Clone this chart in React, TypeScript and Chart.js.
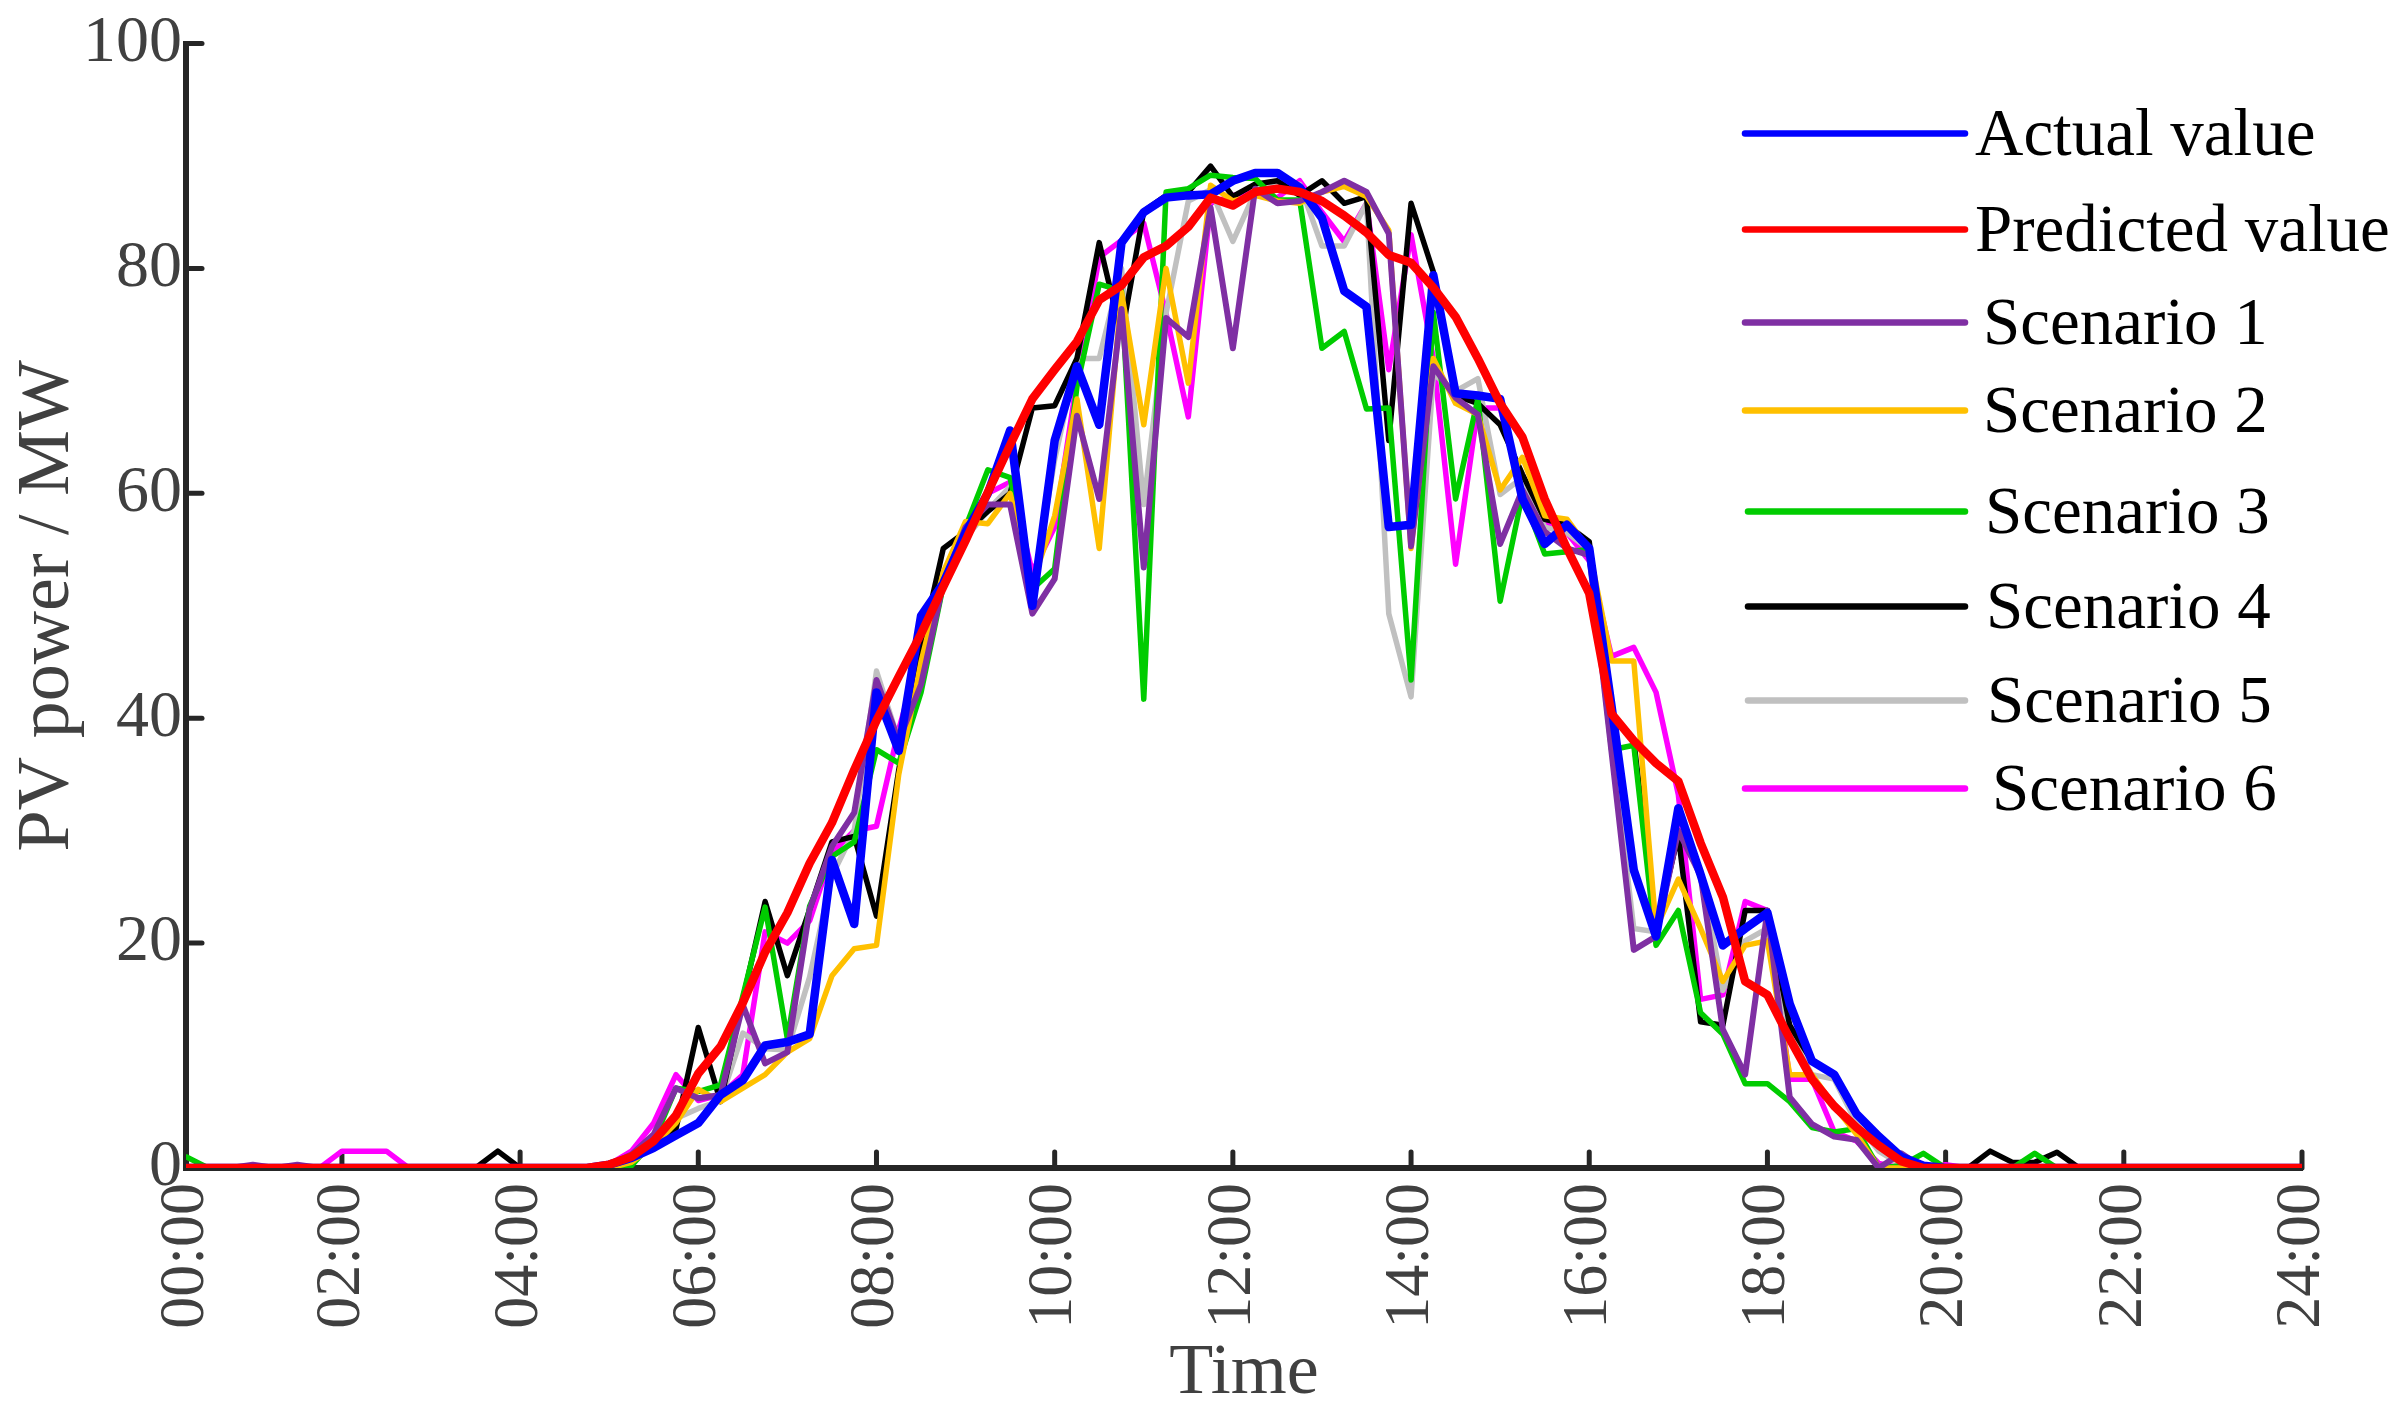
import React, { useEffect, useRef } from 'react';
import { Chart, registerables } from 'chart.js';

Chart.register(...registerables);

// 96 quarter-hour steps (index 1..96)
const STEP_INDEX: number[] = Array.from({ length: 96 }, (_, i) => i + 1);
const TICK_POSITIONS = [1, 8, 16, 24, 32, 40, 48, 56, 64, 72, 80, 88, 96];
const TICK_LABELS = ['00:00', '02:00', '04:00', '06:00', '08:00', '10:00', '12:00', '14:00', '16:00', '18:00', '20:00', '22:00', '24:00'];
const Y_TICKS = [0, 20, 40, 60, 80, 100];

const SERIES_NAMES = ['Actual value', 'Predicted value', 'Scenario 1', 'Scenario 2', 'Scenario 3', 'Scenario 4', 'Scenario 5', 'Scenario 6'];

const ACTUAL = [
  0, 0, 0, 0, 0, 0, 0, 0, 0, 0, 0, 0, 0, 0, 0, 0, 0, 0, 0,
  0.3, 0.9, 1.8, 2.9, 4.0, 6.5, 7.8, 10.9, 11.2, 11.9,
  27.4, 21.7, 42.3, 37.1, 49.1, 52, 56.5, 60, 65.6, 50,
  64.7, 71.3, 66.1, 82.3, 85, 86.3, 86.5, 86.6, 87.8, 88.5,
  88.5, 87.2, 84.5, 78, 76.6, 57, 57.2, 79.4, 68.9, 68.7,
  68.4, 59.5, 55.5, 57.2, 55.1, 41.1, 26.5, 20.6, 32, 26.1,
  19.8, 21.3, 22.7, 14.6, 9.5, 8.3, 4.8, 2.8, 1.0, 0.2,
  0, 0, 0, 0, 0, 0, 0, 0, 0, 0, 0, 0, 0, 0, 0, 0, 0,
];

const PREDICTED = [
  0, 0, 0, 0, 0, 0, 0, 0, 0, 0, 0, 0, 0, 0, 0, 0, 0, 0, 0,
  0.3, 1.0, 2.4, 4.7, 8.4, 10.8, 14.7, 19.2, 22.7, 27.1,
  30.7, 35.4, 39.8, 43.7, 47.5, 51.7, 55.8, 60.1, 64.3, 68.4,
  71, 73.5, 77.2, 78.5, 81, 82, 83.7, 86.3, 85.6, 86.8,
  87.1, 86.8, 86, 84.7, 83.2, 81.2, 80.5, 78.3, 75.7, 72,
  68, 65, 59.5, 55.1, 51.1, 40.4, 38, 36, 34.4, 28.9,
  24.1, 16.6, 15.4, 11.5, 7.9, 5.5, 3.6, 2.0, 0.6, 0,
  0, 0, 0, 0, 0, 0, 0, 0, 0, 0, 0, 0, 0, 0, 0, 0, 0,
];

const SCENARIO_1 = [
  0, 0, 0, 0.3, 0, 0.3, 0, 0, 0, 0, 0, 0, 0, 0, 0, 0, 0, 0, 0,
  0.3, 1.2, 3, 7.1, 6.2, 6.5, 14.5, 9.3, 10.3, 23,
  28.6, 31.6, 43.4, 38, 43, 52, 57, 59, 59, 49.3,
  52.4, 66.9, 59.5, 76.4, 53.4, 75.6, 73.9, 85.4, 72.9, 87.1,
  85.8, 86, 86.8, 87.8, 86.8, 83.1, 55.3, 71.3, 68.5, 67,
  55.5, 60.3, 56.6, 55.1, 54.5, 37, 19.4, 20.6, 30, 26,
  12.3, 8.3, 22.9, 6.3, 3.9, 2.8, 2.5, 0, 1.3, 0,
  0, 0, 0, 0, 0, 0, 0, 0, 0, 0, 0, 0, 0, 0, 0, 0, 0,
];

const SCENARIO_2 = [
  0, 0, 0, 0, 0, 0, 0, 0, 0, 0, 0, 0, 0, 0, 0, 0, 0, 0, 0, 0,
  0.5, 2, 4, 7, 5.9, 7.1, 8.3, 10.3, 11.5,
  17.1, 19.5, 19.8, 35, 45, 53, 57.5, 57.3, 60, 52,
  58, 68.4, 55.1, 77.9, 66.1, 80, 69.8, 87.4, 86, 86.5,
  86, 85.8, 86.8, 87.3, 86.4, 83.4, 55.1, 72, 68, 67,
  60.3, 63.2, 58, 57.7, 55, 45.1, 45.1, 21.3, 25.7, 21.3,
  16.6, 19.8, 20.2, 8.3, 8.3, 5.5, 3, 0, 0, 0,
  0, 0, 0, 0, 0, 0, 0, 0, 0, 0, 0, 0, 0, 0, 0, 0, 0,
];

const SCENARIO_3 = [
  1, 0, 0, 0, 0, 0, 0, 0, 0, 0, 0, 0, 0, 0, 0, 0, 0, 0, 0, 0,
  0.2, 2.4, 7.1, 6.8, 7.4, 15.3, 23.2, 11.5, 23.3,
  27.7, 29, 37.2, 36, 42.3, 51.8, 57, 62.1, 61.4, 51.5,
  53.3, 69.5, 78.6, 78, 41.7, 86.8, 87.1, 88.3, 88.1, 88,
  86.1, 86.1, 72.9, 74.4, 67.5, 67.6, 43.4, 76.1, 59.5, 68.4,
  50.4, 59.9, 54.6, 54.8, 55, 37.2, 37.6, 19.8, 22.9, 13.8,
  11.9, 7.5, 7.5, 5.9, 3.6, 3.2, 3.5, 0, 0.2, 1.3,
  0, 0, 0, 0, 1.3, 0, 0, 0, 0, 0, 0, 0, 0, 0, 0, 0, 0,
];

const SCENARIO_4 = [
  0, 0, 0, 0, 0, 0, 0, 0, 0, 0, 0, 0, 0, 0, 1.5, 0, 0, 0, 0,
  0.3, 0.9, 1.8, 3.5, 12.5, 5.9, 15, 23.7, 17.1, 23,
  29, 29.5, 22.4, 35.4, 46.3, 55.1, 56.6, 58.4, 60, 67.6,
  67.8, 72, 82.3, 74, 85.1, 86.5, 86.8, 89.1, 86.4, 87.5,
  87.8, 86.5, 87.8, 85.8, 86.4, 64.7, 85.8, 79.7, 68.7, 68,
  66.1, 61.7, 57.7, 57.2, 55.7, 40.4, 38, 21.3, 29.6, 13,
  12.7, 22.9, 22.9, 12.7, 9.5, 8.3, 4.8, 2.4, 0.5, 0,
  0, 0, 1.5, 0.5, 0.5, 1.4, 0, 0, 0, 0, 0, 0, 0, 0, 0, 0, 0,
];

const SCENARIO_5 = [
  0, 0, 0, 0, 0, 0, 0, 0, 0, 0, 0, 0, 0, 0, 0, 0, 0, 0, 0, 0,
  0.5, 2, 4.4, 5.3, 6, 12, 10.6, 10.5, 17,
  26, 30, 44.2, 38, 45, 52, 56, 58.5, 60.6, 51,
  63, 72, 72, 80, 59, 76, 86, 87, 82.4, 86.8,
  87.5, 87.5, 82, 82, 85.8, 49.3, 41.9, 70.6, 69.1, 70.2,
  59.9, 61.4, 57, 56.5, 55, 38, 21.3, 21, 30, 26.5,
  15.8, 20.2, 21.3, 12, 8.3, 7.9, 4, 1.5, 0.3, 0,
  0, 0, 0, 0, 0, 0, 0, 0, 0, 0, 0, 0, 0, 0, 0, 0, 0,
];

const SCENARIO_6 = [
  0, 0, 0, 0, 0, 0, 0, 1.5, 1.5, 1.5, 0, 0, 0, 0, 0, 0, 0, 0, 0,
  0.3, 1.5, 4, 8.3, 6, 6.5, 8.3, 21, 20, 22,
  28, 30, 30.4, 39, 46, 52, 56.5, 60, 61, 53,
  57, 70, 81, 82.5, 84, 76, 66.8, 85.8, 86.5, 86.8,
  86.3, 87.8, 85, 82.4, 85.8, 71, 83, 72, 53.7, 67.6,
  67.6, 60, 57.5, 56.5, 54, 45.5, 46.3, 42.3, 33.2, 15,
  15.4, 23.7, 22.9, 7.9, 7.9, 3.2, 2.4, 0.4, 0, 0,
  0.3, 0, 0, 0, 0, 0, 0, 0, 0, 0, 0, 0, 0, 0, 0, 0, 0,
];

const SERIES_VALUES = [ACTUAL, PREDICTED, SCENARIO_1, SCENARIO_2, SCENARIO_3, SCENARIO_4, SCENARIO_5, SCENARIO_6];
const SERIES_COLORS = ['#0000FF', '#FF0000', '#7F2FA3', '#FFC000', '#00CC00', '#000000', '#C0C0C0', '#FF00FF'];
const SERIES_WIDTHS = [8.5, 8.5, 6, 5.5, 5.5, 5.5, 5.5, 5.5];
const SERIES_ORDER = [1, 0, 2, 3, 4, 5, 6, 7];

const FONT = "'Liberation Serif', 'Times New Roman', Times, serif";
const AXIS_COLOR = '#262626';
const LABEL_COLOR = '#404040';

const innerTicksPlugin = {
  id: 'innerTicks',
  beforeDatasetsDraw(chart: any) {
    const { ctx, chartArea, scales } = chart;
    ctx.save();
    ctx.strokeStyle = AXIS_COLOR;
    ctx.lineWidth = 5;
    ctx.lineCap = 'round';
    for (const v of Y_TICKS) {
      const y = scales.y.getPixelForValue(v);
      ctx.beginPath();
      ctx.moveTo(chartArea.left, y);
      ctx.lineTo(chartArea.left + 16, y);
      ctx.stroke();
    }
    for (const p of TICK_POSITIONS) {
      const x = scales.x.getPixelForValue(p);
      ctx.beginPath();
      ctx.moveTo(x, chartArea.bottom);
      ctx.lineTo(x, chartArea.bottom - 16);
      ctx.stroke();
    }
    ctx.restore();
  },
};

const insideLegendPlugin = {
  id: 'insideLegend',
  afterDraw(chart: any) {
    const { ctx, chartArea } = chart;
    const rowY = [90, 186, 279, 367, 468, 563, 657, 745];
    const lineStart = [-557, -557, -557, -557, -554, -554, -554, -557];
    const textStart = [-327, -327, -319, -319, -317, -316, -315, -310];
    const lineEnd = -337;
    ctx.save();
    ctx.font = `67px ${FONT}`;
    ctx.textBaseline = 'middle';
    ctx.textAlign = 'left';
    ctx.lineCap = 'round';
    chart.data.datasets.forEach((ds: any, i: number) => {
      const y = chartArea.top + rowY[i];
      ctx.strokeStyle = ds.borderColor;
      ctx.lineWidth = 6.5;
      ctx.beginPath();
      ctx.moveTo(chartArea.right + lineStart[i], y);
      ctx.lineTo(chartArea.right + lineEnd, y);
      ctx.stroke();
      ctx.fillStyle = '#000000';
      ctx.fillText(ds.label, chartArea.right + textStart[i], y + 4);
    });
    ctx.restore();
  },
};

export default function App() {
  const canvasRef = useRef<HTMLCanvasElement | null>(null);

  useEffect(() => {
    document.body.style.margin = '0';
    const canvas = canvasRef.current;
    if (!canvas) return;

    const datasets = SERIES_NAMES.map((name, i) => ({
      label: name,
      data: STEP_INDEX.map((k, j) => ({ x: k, y: SERIES_VALUES[i][j] })),
      borderColor: SERIES_COLORS[i],
      backgroundColor: SERIES_COLORS[i],
      borderWidth: SERIES_WIDTHS[i],
      pointRadius: 0,
      tension: 0,
      fill: false,
      borderJoinStyle: 'round' as const,
      borderCapStyle: 'round' as const,
      order: SERIES_ORDER[i],
    }));

    const chart = new Chart(canvas, {
      type: 'line',
      data: { datasets },
      plugins: [innerTicksPlugin, insideLegendPlugin],
      options: {
        responsive: false,
        animation: false,
        devicePixelRatio: 1,
        parsing: false,
        normalized: true,
        layout: { padding: { left: 0, right: 92, top: 23, bottom: 0 } },
        plugins: {
          legend: { display: false },
          tooltip: { enabled: false },
        },
        scales: {
          x: {
            type: 'linear',
            min: 1,
            max: 96,
            afterBuildTicks: (scale: any) => {
              scale.ticks = TICK_POSITIONS.map((v) => ({ value: v }));
            },
            afterFit: (scale: any) => {
              scale.height = 249;
            },
            grid: { display: false, drawTicks: false },
            border: { display: true, color: AXIS_COLOR, width: 6 },
            ticks: {
              autoSkip: false,
              maxRotation: 90,
              minRotation: 90,
              padding: 15,
              color: LABEL_COLOR,
              font: { family: FONT, size: 64 },
              callback: (v: any) => {
                const idx = TICK_POSITIONS.indexOf(Number(v));
                return idx >= 0 ? TICK_LABELS[idx] : '';
              },
            },
            title: {
              display: true,
              text: 'Time',
              color: LABEL_COLOR,
              font: { family: FONT, size: 72 },
              padding: { top: 0, bottom: 0 },
            },
          },
          y: {
            min: 0,
            max: 100,
            afterBuildTicks: (scale: any) => {
              scale.ticks = Y_TICKS.map((v) => ({ value: v }));
            },
            afterFit: (scale: any) => {
              scale.width = 186;
            },
            grid: { display: false, drawTicks: false },
            border: { display: true, color: AXIS_COLOR, width: 6 },
            ticks: {
              padding: 4,
              color: LABEL_COLOR,
              font: { family: FONT, size: 66 },
            },
            title: {
              display: true,
              text: 'PV power / MW',
              color: LABEL_COLOR,
              font: { family: FONT, size: 74 },
              padding: { top: 4, bottom: 0 },
            },
          },
        },
      },
    } as any);

    return () => {
      chart.destroy();
    };
  }, []);

  return (
    <div style={{ width: 2394, height: 1417, background: '#ffffff' }}>
      <canvas ref={canvasRef} width={2394} height={1417} style={{ display: 'block' }} />
    </div>
  );
}
